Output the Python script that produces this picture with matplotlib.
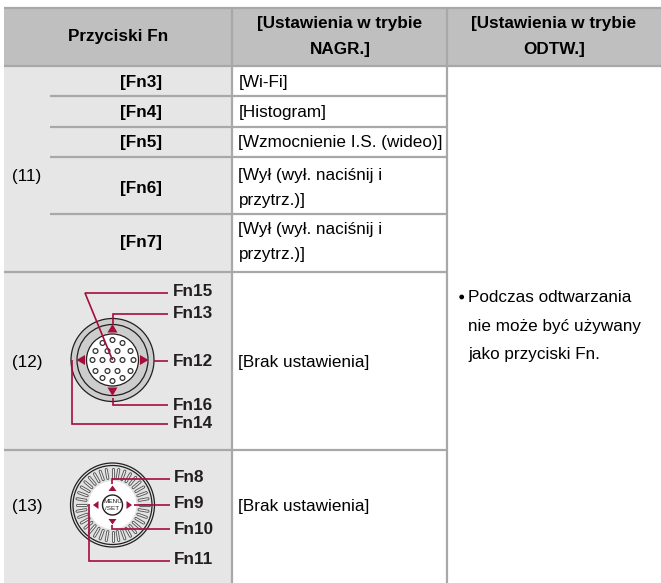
import numpy as np
import matplotlib
matplotlib.use('Agg')
import matplotlib.pyplot as plt
import matplotlib.patches as patches

plt.rcParams['font.family'] = ['Liberation Sans', 'DejaVu Sans']

# Table text
headers = ['Przyciski Fn', '[Ustawienia w trybie\nNAGR.]', '[Ustawienia w trybie\nODTW.]']
group_labels = ['(11)', '(12)', '(13)']
fn_names = ['[Fn3]', '[Fn4]', '[Fn5]', '[Fn6]', '[Fn7]']
rec_settings = ['[Wi-Fi]', '[Histogram]', '[Wzmocnienie I.S. (wideo)]',
                '[Wył (wył. naciśnij i\nprzytrz.)]', '[Wył (wył. naciśnij i\nprzytrz.)]']
no_setting = '[Brak ustawienia]'
play_note = ['Podczas odtwarzania', 'nie może być używany', 'jako przyciski Fn.']
connector_labels = ['Fn15', 'Fn13', 'Fn12', 'Fn16', 'Fn14']
dial_labels = ['Fn8', 'Fn9', 'Fn10', 'Fn11']

# Pin offsets of the connector, relative to its centre
pin_dx = [-10, 0, 10, -17, -5, 5, 18, -20, -10, 0, 10, 21, -17, -5, 5, 18, -10, 0, 10]
pin_dy = [-17, -20, -17, -9, -9, -9, -9, 0, 0, 0, 0, 0, 11, 11, 11, 11, 18, 21, 18]

GRID = '#a8a8a8'
HEAD = '#bfbfbf'
CELL = '#e6e6e6'
RED = '#a50d3b'
DARK = '#231f20'
FS = 12.3

fig = plt.figure(figsize=(6.61, 5.83), dpi=100)
ax = fig.add_axes([0, 0, 1, 1])
ax.set_xlim(0, 661)
ax.set_ylim(583, 0)
ax.axis('off')

# Backgrounds
ax.add_patch(patches.Rectangle((4, 8), 657, 58, fc=HEAD, ec='none'))
ax.add_patch(patches.Rectangle((4, 66), 228, 517, fc=CELL, ec='none'))

# Grid lines
def hline(x0, x1, y):
    ax.plot([x0, x1], [y, y], color=GRID, lw=1.6, solid_capstyle='butt')

hline(4, 661, 8)
hline(4, 661, 66)
for y in [96, 127, 157, 214]:
    hline(50, 447, y)
hline(4, 447, 272)
hline(4, 447, 450)
for x in [232, 447]:
    ax.plot([x, x], [8, 583], color=GRID, lw=1.6, solid_capstyle='butt')

# Header
ax.text(118, 37, headers[0], ha='center', va='center', fontsize=FS, fontweight='bold')
ax.text(340, 36.5, headers[1], ha='center', va='center', fontsize=FS, fontweight='bold', linespacing=1.9)
ax.text(554, 36.5, headers[2], ha='center', va='center', fontsize=FS, fontweight='bold', linespacing=1.9)

# Rows of group (11)
row_y = [83, 112, 142, 188, 242]
for name, setting, y in zip(fn_names, rec_settings, row_y):
    ax.text(141, y, name, ha='center', va='center', fontsize=FS, fontweight='bold')
    ax.text(238.5, y, setting, ha='left', va='center', fontsize=FS, linespacing=1.9)

for label, y in zip(group_labels, [176, 362, 506]):
    ax.text(12, y, label, ha='left', va='center', fontsize=FS)
for y in [362, 506]:
    ax.text(238.5, y, no_setting, ha='left', va='center', fontsize=FS)

# Note in the last column
ax.add_patch(patches.Circle((461.7, 297), 2.4, fc='black', ec='none'))
for line, y in zip(play_note, [298, 327, 355]):
    ax.text(468, y, line, ha='left', va='center', fontsize=FS)


def ring(cx, cy, r, fc='none', ec=DARK, lw=0.9):
    ax.add_patch(patches.Circle((cx, cy), r, fc=fc, ec=ec, lw=lw))


def arrows(cx, cy, near, far, half):
    # four triangles, tips pointing outward
    for dx, dy in [(0, -1), (0, 1), (-1, 0), (1, 0)]:
        px, py = -dy, dx
        ax.add_patch(patches.Polygon([(cx + dx * far, cy + dy * far),
                                      (cx + dx * near + px * half, cy + dy * near + py * half),
                                      (cx + dx * near - px * half, cy + dy * near - py * half)],
                                     fc=RED, ec='none'))


def leader(xs, ys):
    ax.plot(xs, ys, color=RED, lw=1.2, solid_joinstyle='miter', solid_capstyle='butt')


# Connector diagram, row (12)
cx, cy = 112.5, 360
ring(cx, cy, 41.5, fc='#cdcdcd')
ring(cx, cy, 35.5, fc='#cdcdcd')
ring(cx, cy, 26, fc='white')
for dx, dy in zip(pin_dx, pin_dy):
    ax.add_patch(patches.Circle((cx + dx, cy + dy), 2.4, fc='white', ec='#333333', lw=0.9))
arrows(cx, cy, 27.5, 36, 5)
leader([168, 85, cx], [293, 293, cy])
leader([168, cx, cx], [313.5, 313.5, 325])
leader([154, 168], [360.5, 360.5])
leader([cx, cx, 168], [398, 405, 405])
leader([71.5, 71.5, 168], [360, 424, 424])
for label, y in zip(connector_labels, [292, 313, 361, 405, 424]):
    ax.text(173, y, label, ha='left', va='center', fontsize=FS, fontweight='bold', color=DARK)

# Dial diagram, row (13)
cx, cy = 112.5, 505
ring(cx, cy, 42, fc='#e2e2e2')
ring(cx, cy, 39.5)
for a in np.linspace(0, 2 * np.pi, 36, endpoint=False):
    xs = [cx + 27 * np.cos(a), cx + 36 * np.cos(a)]
    ys = [cy + 27 * np.sin(a), cy + 36 * np.sin(a)]
    ax.plot(xs, ys, color='#555555', lw=2.2, solid_capstyle='round')
    ax.plot(xs, ys, color='#eeeeee', lw=0.9, solid_capstyle='round')
ring(cx, cy, 24, fc='white', ec='none')
ring(cx, cy, 10, fc='white', ec=DARK, lw=1.0)
ax.text(cx, cy - 3.5, 'MENU', ha='center', va='center', fontsize=4.6, color=DARK)
ax.text(cx, cy + 3.5, '/SET', ha='center', va='center', fontsize=4.6, color=DARK)
arrows(cx, cy, 14, 19.5, 4)
leader([170, 112, 112], [478.5, 478.5, 484])
leader([134, 170], [504.5, 504.5])
leader([112, 112, 170], [525, 529, 529])
leader([89, 89, 170], [504, 560.5, 560.5])
for label, y in zip(dial_labels, [478, 504, 529, 560]):
    ax.text(174, y, label, ha='left', va='center', fontsize=FS, fontweight='bold', color=DARK)

fig.savefig('out.png', dpi=100)
